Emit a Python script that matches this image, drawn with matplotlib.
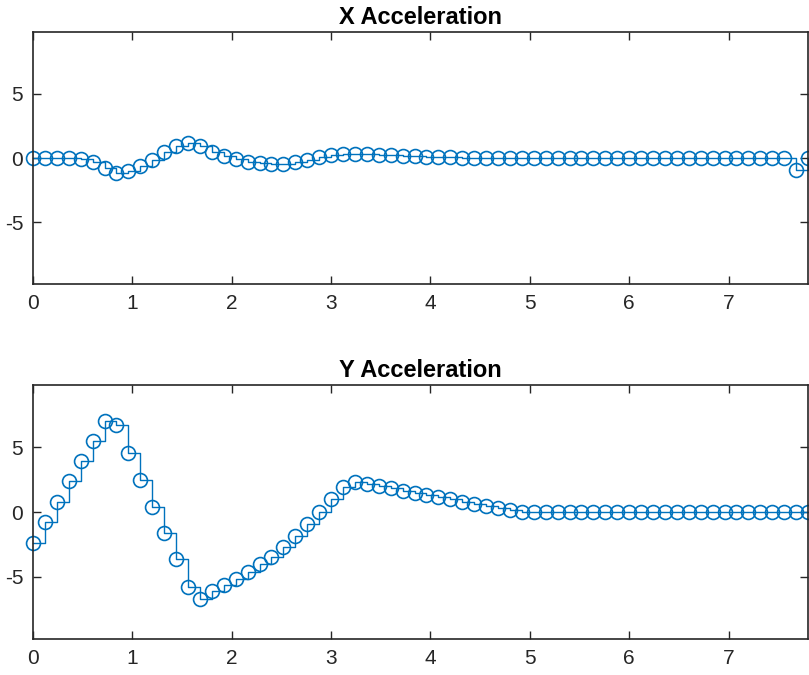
import numpy as np
import matplotlib
matplotlib.use('Agg')
import matplotlib.pyplot as plt

plt.rcParams['font.family'] = ['Liberation Sans', 'DejaVu Sans']
plt.rcParams['axes.unicode_minus'] = False

# sampled acceleration, dt = 0.12 s
dt = 0.12
x_acc = [0, 0, 0, 0, -0.1, -0.3, -0.75, -1.15, -1.0, -0.6,
         -0.15, 0.45, 0.95, 1.15, 0.95, 0.5, 0.15, -0.05, -0.28, -0.42,
         -0.47, -0.47, -0.3, -0.15, 0.05, 0.2, 0.3, 0.35, 0.32, 0.27,
         0.22, 0.17, 0.13, 0.1, 0.07, 0.05, 0.03, 0.02, 0.01, 0,
         0, 0, 0, 0, 0, 0, 0, 0, 0, 0,
         0, 0, 0, 0, 0, 0, 0, 0, 0, 0,
         0, 0, 0, 0, -0.9, 0]
y_acc = [-2.37, -0.8, 0.77, 2.37, 3.91, 5.48, 7.02, 6.69, 4.55, 2.47,
         0.39, -1.6, -3.65, -5.76, -6.71, -6.12, -5.61, -5.14, -4.6, -3.99,
         -3.5, -2.73, -1.87, -0.9, 0.02, 0.98, 1.95, 2.34, 2.16, 2.0,
         1.83, 1.64, 1.49, 1.31, 1.13, 0.98, 0.8, 0.62, 0.46, 0.28,
         0.15, 0.02, 0, 0, 0, 0, 0, 0, 0, 0,
         0, 0, 0, 0, 0, 0, 0, 0, 0, 0,
         0, 0, 0, 0, 0, 0]
t = dt * np.arange(len(x_acc))

blue = '#0072BD'
axcol = '#262626'

fig = plt.figure(figsize=(8.09, 6.75), dpi=100)
ax1 = fig.add_axes([33/809, 1 - 284/675, 775/809, 252/675])
ax2 = fig.add_axes([33/809, 1 - 639/675, 775/809, 254/675])

for ax, vals, title in [(ax1, x_acc, 'X Acceleration'), (ax2, y_acc, 'Y Acceleration')]:
    ax.step(t, vals, where='post', color=blue, lw=1.0, clip_on=False)
    ax.plot(t, vals, 'o', ms=10, mfc='none', mec=blue, mew=1.2, clip_on=False)
    ax.set_xlim(0, 7.8)
    ax.set_ylim(-9.8, 9.8)
    ax.set_xticks(range(8))
    ax.set_yticks([-5, 0, 5])
    ax.tick_params(direction='in', length=5.5, width=1.0, colors=axcol,
                   labelsize=15, top=True, right=True)
    ax.tick_params(axis='x', pad=7)
    ax.tick_params(axis='y', pad=7)
    for s in ax.spines.values():
        s.set_linewidth(1.2)
        s.set_color(axcol)
    ax.set_title(title, fontsize=17, fontweight='bold', color='black', pad=6)

fig.savefig('out.png', dpi=100)
